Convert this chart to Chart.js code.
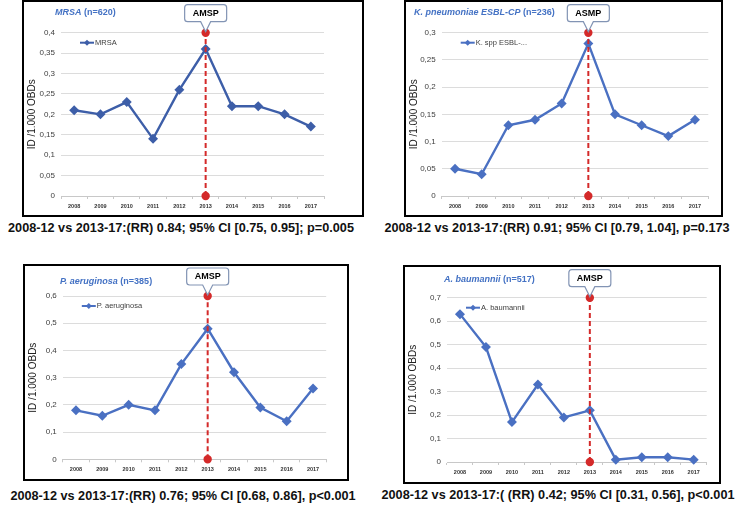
<!DOCTYPE html>
<html>
<head>
<meta charset="utf-8">
<script src="https://cdn.jsdelivr.net/npm/chart.js@4"></script>
<style>
  body { margin: 0; width: 743px; height: 505px; position: relative; overflow: hidden; background: #fff;
         font-family: 'Liberation Sans', Arial, sans-serif; }
  .panel { position: absolute; border: 2px solid #000; box-sizing: border-box; background: #fff; }
  .panel canvas { display: block; }
  .cap { position: absolute; font-weight: bold; font-size: 12.7px; color: #111; white-space: nowrap;
         transform: translate(-50%, -50%); }
</style>
</head>
<body>
<div class="panel" id="p1"><canvas id="c1"></canvas></div>
<div class="panel" id="p2"><canvas id="c2"></canvas></div>
<div class="panel" id="p3"><canvas id="c3"></canvas></div>
<div class="panel" id="p4"><canvas id="c4"></canvas></div>
<div class="cap" style="left:181px;top:228px">2008-12 vs 2013-17:(RR) 0.84; 95% CI [0.75, 0.95]; p=0.005</div>
<div class="cap" style="left:557px;top:228px">2008-12 vs 2013-17:(RR) 0.91; 95% CI [0.79, 1.04], p=0.173</div>
<div class="cap" style="left:183px;top:496px">2008-12 vs 2013-17:(RR) 0.76; 95% CI [0.68, 0.86], p&lt;0.001</div>
<div class="cap" style="left:558px;top:495px">2008-12 vs 2013-17:( (RR) 0.42; 95% CI [0.31, 0.56], p&lt;0.001</div>
<script>
// data
const years = ['2008', '2009', '2010', '2011', '2012', '2013', '2014', '2015', '2016', '2017'];
const interventionYear = '2013';

const mrsaValues = [0.21, 0.20, 0.23, 0.14, 0.26, 0.36, 0.22, 0.22, 0.20, 0.17];
const kpneuValues = [0.05, 0.04, 0.13, 0.14, 0.17, 0.28, 0.15, 0.13, 0.11, 0.14];
const paeruValues = [0.18, 0.16, 0.20, 0.18, 0.35, 0.48, 0.32, 0.19, 0.14, 0.26];
const abaumValues = [0.63, 0.49, 0.17, 0.33, 0.19, 0.22, 0.01, 0.02, 0.02, 0.01];

const yMaxes = [0.4, 0.3, 0.6, 0.7];
const ySteps = [0.05, 0.05, 0.1, 0.1];
const seriesLabels = ['MRSA', 'K. spp ESBL-...', 'P. aeruginosa', 'A. baumannii'];
const titleSpecies = ['MRSA', 'K. pneumoniae ESBL-CP', 'P. aeruginosa', 'A. baumannii'];
const titleCounts = [' (n=620)', ' (n=236)', ' (n=385)', ' (n=517)'];
const calloutTexts = ['AMSP', 'ASMP', 'AMSP', 'AMSP'];

// layout: panel box and plot area in page pixels
const panels = [
    { id: 1, box: [22, 0, 342, 217], plot: [61, 32.7, 324, 196], title: [31, 11], color: '#3d5ea8' },
    { id: 2, box: [404, 0, 319, 217], plot: [441.7, 32.7, 708.3, 196], title: [8, 11], color: '#4a70c2' },
    { id: 3, box: [23, 264, 326, 217], plot: [62.8, 296, 326.2, 459.3], title: [35, 16], color: '#4a70c2' },
    { id: 4, box: [403, 265, 318, 219], plot: [447, 297.7, 706.7, 462], title: [39, 13], color: '#4a70c2' }
];
const seriesValues = [mrsaValues, kpneuValues, paeruValues, abaumValues];

const fmt = v => Number(v.toFixed(2)).toString().replace('.', ',');

const decorPlugin = {
    id: 'decor',
    afterDraw(chart, args, opts) {
        const ctx = chart.ctx;
        const area = chart.chartArea;
        ctx.save();

        // panel title
        ctx.textBaseline = 'middle';
        ctx.textAlign = 'left';
        ctx.fillStyle = '#4472c4';
        ctx.font = 'italic bold 9px "Liberation Sans", Arial, sans-serif';
        ctx.fillText(opts.species, opts.titleX, opts.titleY);
        const w = ctx.measureText(opts.species).width;
        ctx.font = 'bold 9px "Liberation Sans", Arial, sans-serif';
        ctx.fillText(opts.count, opts.titleX + w, opts.titleY);

        // legend
        const lx = area.left + 19, ly = area.top + 10;
        ctx.strokeStyle = opts.color;
        ctx.lineWidth = 2;
        ctx.beginPath();
        ctx.moveTo(lx, ly);
        ctx.lineTo(lx + 14, ly);
        ctx.stroke();
        ctx.fillStyle = opts.color;
        ctx.beginPath();
        ctx.moveTo(lx + 7, ly - 3);
        ctx.lineTo(lx + 10, ly);
        ctx.lineTo(lx + 7, ly + 3);
        ctx.lineTo(lx + 4, ly);
        ctx.closePath();
        ctx.fill();
        ctx.fillStyle = '#404040';
        ctx.font = '7.5px "Liberation Sans", Arial, sans-serif';
        ctx.fillText(opts.legend, lx + 15, ly);

        // callout
        const xs = chart.scales.x;
        const cx = xs.getPixelForValue(years.indexOf(interventionYear));
        const tip = area.top - 1;
        const bw = 42, bh = 17, r = 3;
        const bottom = tip - 10, top = bottom - bh;
        const left = cx - bw / 2, right = cx + bw / 2;
        ctx.beginPath();
        ctx.moveTo(left + r, top);
        ctx.lineTo(right - r, top);
        ctx.quadraticCurveTo(right, top, right, top + r);
        ctx.lineTo(right, bottom - r);
        ctx.quadraticCurveTo(right, bottom, right - r, bottom);
        ctx.lineTo(cx + 5, bottom);
        ctx.lineTo(cx, tip);
        ctx.lineTo(cx - 5, bottom);
        ctx.lineTo(left + r, bottom);
        ctx.quadraticCurveTo(left, bottom, left, bottom - r);
        ctx.lineTo(left, top + r);
        ctx.quadraticCurveTo(left, top, left + r, top);
        ctx.closePath();
        ctx.fillStyle = '#fff';
        ctx.fill();
        ctx.strokeStyle = '#8294b4';
        ctx.lineWidth = 1.2;
        ctx.stroke();
        ctx.fillStyle = '#000';
        ctx.textAlign = 'center';
        ctx.font = 'bold 9px "Liberation Sans", Arial, sans-serif';
        ctx.fillText(opts.callout, cx, top + bh / 2 + 0.5);

        ctx.restore();
    }
};

panels.forEach((p, i) => {
    const div = document.getElementById('p' + p.id);
    const [bx, by, bw, bh] = p.box;
    div.style.left = bx + 'px';
    div.style.top = by + 'px';
    div.style.width = bw + 'px';
    div.style.height = bh + 'px';

    const cx = bx + 2, cy = by + 2, cw = bw - 4, ch = bh - 4;
    const [pl, pt, pr, pb] = p.plot;
    const yAxisWidth = pl - cx;
    const rightPad = cx + cw - pr;
    const topPad = pt - cy;
    const xAxisHeight = cy + ch - pb;

    const canvas = document.getElementById('c' + p.id);
    canvas.width = cw;
    canvas.height = ch;

    new Chart(canvas.getContext('2d'), {
        type: 'line',
        data: {
            labels: years,
            datasets: [
                {
                    label: 'intervention',
                    data: [{ x: interventionYear, y: 0 }, { x: interventionYear, y: yMaxes[i] }],
                    borderColor: '#d42a2a',
                    borderDash: [5, 3],
                    borderWidth: 2,
                    pointRadius: 3.2,
                    pointBackgroundColor: '#d42a2a',
                    pointBorderColor: '#d42a2a',
                    clip: false,
                    order: 0
                },
                {
                    label: seriesLabels[i],
                    data: seriesValues[i],
                    borderColor: p.color,
                    backgroundColor: p.color,
                    borderWidth: 2.4,
                    pointStyle: 'rectRot',
                    pointRadius: 3.3,
                    pointBackgroundColor: p.color,
                    pointBorderColor: p.color,
                    tension: 0,
                    clip: false,
                    order: 1
                }
            ]
        },
        options: {
            responsive: false,
            animation: false,
            layout: { padding: { top: topPad, right: rightPad, left: 0, bottom: 0 } },
            plugins: {
                legend: { display: false },
                tooltip: { enabled: false },
                decor: {
                    species: titleSpecies[i],
                    count: titleCounts[i],
                    titleX: p.title[0],
                    titleY: p.title[1],
                    legend: seriesLabels[i],
                    callout: calloutTexts[i],
                    color: p.color
                }
            },
            scales: {
                x: {
                    offset: true,
                    grid: { display: true, drawOnChartArea: false, drawTicks: true, tickLength: 3, offset: true, color: '#c8c8c8' },
                    border: { display: true, color: '#c8c8c8' },
                    ticks: { color: '#333', font: { size: 5.5, weight: 'bold' }, padding: 4, maxRotation: 0, autoSkip: false },
                    afterFit: s => { s.height = xAxisHeight; }
                },
                y: {
                    min: 0,
                    max: yMaxes[i],
                    grid: { color: '#dcdcdc', drawTicks: false },
                    border: { display: false },
                    ticks: { stepSize: ySteps[i], color: '#404040', font: { size: 8 }, padding: 6, callback: v => fmt(v) },
                    title: { display: true, text: 'ID /1.000 OBDs', color: '#222', font: { size: 10 }, padding: { top: 2, bottom: 0 } },
                    afterFit: s => { s.width = yAxisWidth; }
                }
            }
        },
        plugins: [decorPlugin]
    });
});
</script>
</body>
</html>
